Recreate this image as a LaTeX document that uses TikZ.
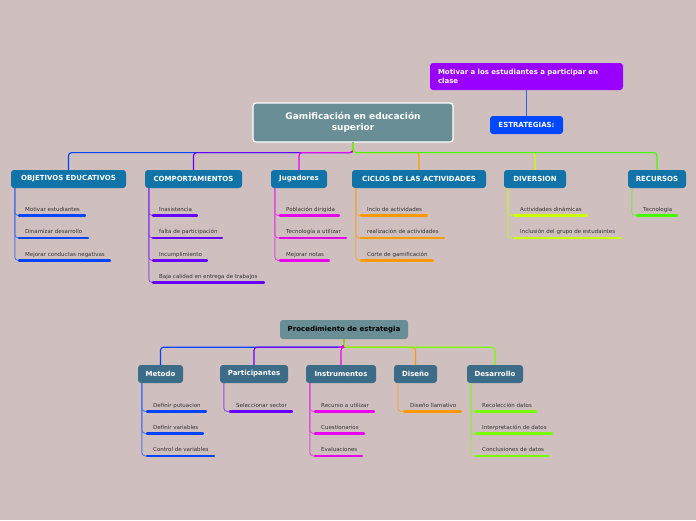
\documentclass[tikz,border=0pt]{standalone}
\usepackage{fontspec}
\setmainfont{DejaVu Sans}
\usetikzlibrary{calc}
\definecolor{bg}{RGB}{207,191,190}
\definecolor{mainfill}{RGB}{106,142,150}
\definecolor{topfill}{RGB}{16,116,168}
\definecolor{lowfill}{RGB}{60,108,136}
\definecolor{cpurpleA}{RGB}{153,0,255}
\definecolor{cestr}{RGB}{0,72,255}
\definecolor{cblue}{RGB}{0,68,255}
\definecolor{cpurple}{RGB}{102,0,255}
\definecolor{cmag}{RGB}{232,0,240}
\definecolor{corange}{RGB}{255,153,0}
\definecolor{cyel}{RGB}{204,255,0}
\definecolor{cgreen}{RGB}{66,255,0}
\definecolor{cgreenB}{RGB}{119,255,0}
\definecolor{kidtxt}{RGB}{51,51,51}
\newcommand\mmkid[7]{%
  \coordinate (#1a) at (#3,#5);
  \coordinate (#1b) at (#4,#5);
  \draw[kidconn,draw=#6!60!bg] ($(#2.south west)+(4,0)$) |- (#1a);
  \draw[kidline,draw=#6] (#1a) -- (#1b);
  \node[kidtext,anchor=base west] (#1) at ($(#1a)+(6,-4.5)$) {#7};
}
\begin{document}
\begin{tikzpicture}[x=1pt,y=-1pt,
  mainbox/.style={draw=white,line width=1.3pt,fill=mainfill,rounded corners=3pt,
    minimum width=200pt,minimum height=39pt,inner sep=1pt,align=center,
    text=white,font=\fontsize{9}{11}\selectfont\bfseries},
  l1box/.style={fill=topfill,rounded corners=3pt,minimum height=18pt,inner sep=1pt,
    text=white,font=\fontsize{7}{9}\selectfont\bfseries},
  l2box/.style={fill=lowfill,rounded corners=3pt,minimum height=18pt,inner sep=1pt,
    text=white,font=\fontsize{7}{9}\selectfont\bfseries},
  conn/.style={line width=1.1pt,rounded corners=3pt},
  kidconn/.style={line width=0.9pt,rounded corners=3.5pt},
  kidline/.style={line width=2.3pt,line cap=round},
  kidtext/.style={inner sep=0pt,text=kidtxt,font=\fontsize{5.5}{6.5}\selectfont}
]
\fill[bg] (0,0) rectangle (696,520);
\useasboundingbox (0,0) rectangle (696,520);

% top nodes
\node[mainbox] (main) at (353,122.5) {Gamificación en educación\\superior};
\node[fill=cpurpleA,rounded corners=3pt,minimum width=193pt,minimum height=27pt,
  inner sep=1pt,text width=177pt,align=left,text=white,
  font=\fontsize{7}{9}\selectfont\bfseries] (motiv) at (526.5,76.5)
  {Motivar a los estudiantes a participar en\\clase};
\node[fill=cestr,rounded corners=3pt,minimum width=73pt,minimum height=18pt,inner sep=1pt,
  text=white,font=\fontsize{7}{9}\selectfont\bfseries] (estr) at (526.5,125) {ESTRATEGIAS:};
\draw[line width=1pt,draw=cestr!80!bg] (motiv.south) -- (estr.north);

\node[l1box,minimum width=115pt] (obj) at (68.5,179) {OBJETIVOS EDUCATIVOS};
\node[l1box,minimum width=97pt] (comp) at (193.5,179) {COMPORTAMIENTOS};
\node[l1box,minimum width=56pt] (jug) at (299,179) {Jugadores};
\node[l1box,minimum width=134pt] (cic) at (419,179) {CICLOS DE LAS ACTIVIDADES};
\node[l1box,minimum width=62pt] (div) at (535,179) {DIVERSION};
\node[l1box,minimum width=58pt] (rec) at (657,179) {RECURSOS};

\begin{scope}[on background layer/.style={}]
\draw[conn,cblue] (main.south) -- ++(0,10) -| (obj.north);
\draw[conn,cpurple] (main.south) -- ++(0,10) -| (comp.north);
\draw[conn,cmag] (main.south) -- ++(0,10) -| (jug.north);
\draw[conn,corange] (main.south) -- ++(0,10) -| (cic.north);
\draw[conn,cyel] (main.south) -- ++(0,10) -| (div.north);
\draw[conn,cgreen] (main.south) -- ++(0,10) -| (rec.north);
\end{scope}

\mmkid{o3}{obj}{19}{110}{260.5}{cblue}{Mejorar conductas negativas}
\mmkid{o2}{obj}{19}{88}{238}{cblue}{Dinamizar desarrollo}
\mmkid{o1}{obj}{19}{85}{215.5}{cblue}{Motivar estudiantes}

\mmkid{c4}{comp}{153}{264}{282.5}{cpurple}{Baja calidad en entrega de trabajos}
\mmkid{c3}{comp}{153}{207}{260.5}{cpurple}{Incumplimiento}
\mmkid{c2}{comp}{153}{222}{238}{cpurple}{falta de participación}
\mmkid{c1}{comp}{153}{197}{215.5}{cpurple}{Inasistencia}

\mmkid{j3}{jug}{280}{329}{260.5}{cmag}{Mejorar notas}
\mmkid{j2}{jug}{280}{346}{238}{cmag}{Tecnología a utilizar}
\mmkid{j1}{jug}{280}{339}{215.5}{cmag}{Población dirigida}

\mmkid{k3}{cic}{361}{433}{260.5}{corange}{Corte de gamificación}
\mmkid{k2}{cic}{361}{444}{238}{corange}{realización de actividades}
\mmkid{k1}{cic}{361}{427}{215.5}{corange}{Incio de actividades}

\mmkid{d2}{div}{514}{621}{238}{cyel}{Inclusión del grupo de estudaintes}
\mmkid{d1}{div}{514}{587}{215.5}{cyel}{Actividades dinámicas}

\mmkid{r1}{rec}{637}{677}{215.5}{cgreen}{Tecnologia}

% lower part
\node[fill=mainfill,rounded corners=3pt,minimum width=128pt,minimum height=19pt,inner sep=1pt,
  text=black,font=\fontsize{7}{9}\selectfont\bfseries] (proc) at (344,329.5) {Procedimiento de estrategia};

\node[l2box,minimum width=45pt] (met) at (160.5,374) {Metodo};
\node[l2box,minimum width=68pt] (par) at (254,374) {Participantes};
\node[l2box,minimum width=70pt] (ins) at (341,374) {Instrumentos};
\node[l2box,minimum width=43pt] (dis) at (415.5,374) {Diseño};
\node[l2box,minimum width=56pt] (des) at (495,374) {Desarrollo};

\draw[conn,cblue] (proc.south) -- ++(0,8) -| (met.north);
\draw[conn,cpurple] (proc.south) -- ++(0,8) -| (par.north);
\draw[conn,cmag] (proc.south) -- ++(0,8) -| (ins.north);
\draw[conn,corange] (proc.south) -- ++(0,8) -| (dis.north);
\draw[conn,cgreenB] (proc.south) -- ++(0,8) -| (des.north);

\mmkid{m3}{met}{147}{214}{456}{cblue}{Control de variables}
\mmkid{m2}{met}{147}{203}{433.5}{cblue}{Definir variables}
\mmkid{m1}{met}{147}{206}{411.5}{cblue}{Definir putuacion}

\mmkid{p1}{par}{230}{292}{411.5}{cpurple}{Seleccionar sector}

\mmkid{i3}{ins}{315}{362}{456}{cmag}{Evaluaciones}
\mmkid{i2}{ins}{315}{364}{433.5}{cmag}{Cuestionarios}
\mmkid{i1}{ins}{315}{374}{411.5}{cmag}{Recurso a utilizar}

\mmkid{s1}{dis}{404}{461}{411.5}{corange}{Diseño llamativo}

\mmkid{e3}{des}{476}{549}{456}{cgreenB}{Conclusiones de datos}
\mmkid{e2}{des}{476}{552}{433.5}{cgreenB}{Interpretación de datos}
\mmkid{e1}{des}{476}{536}{411.5}{cgreenB}{Recolección datos}
\end{tikzpicture}
\end{document}
